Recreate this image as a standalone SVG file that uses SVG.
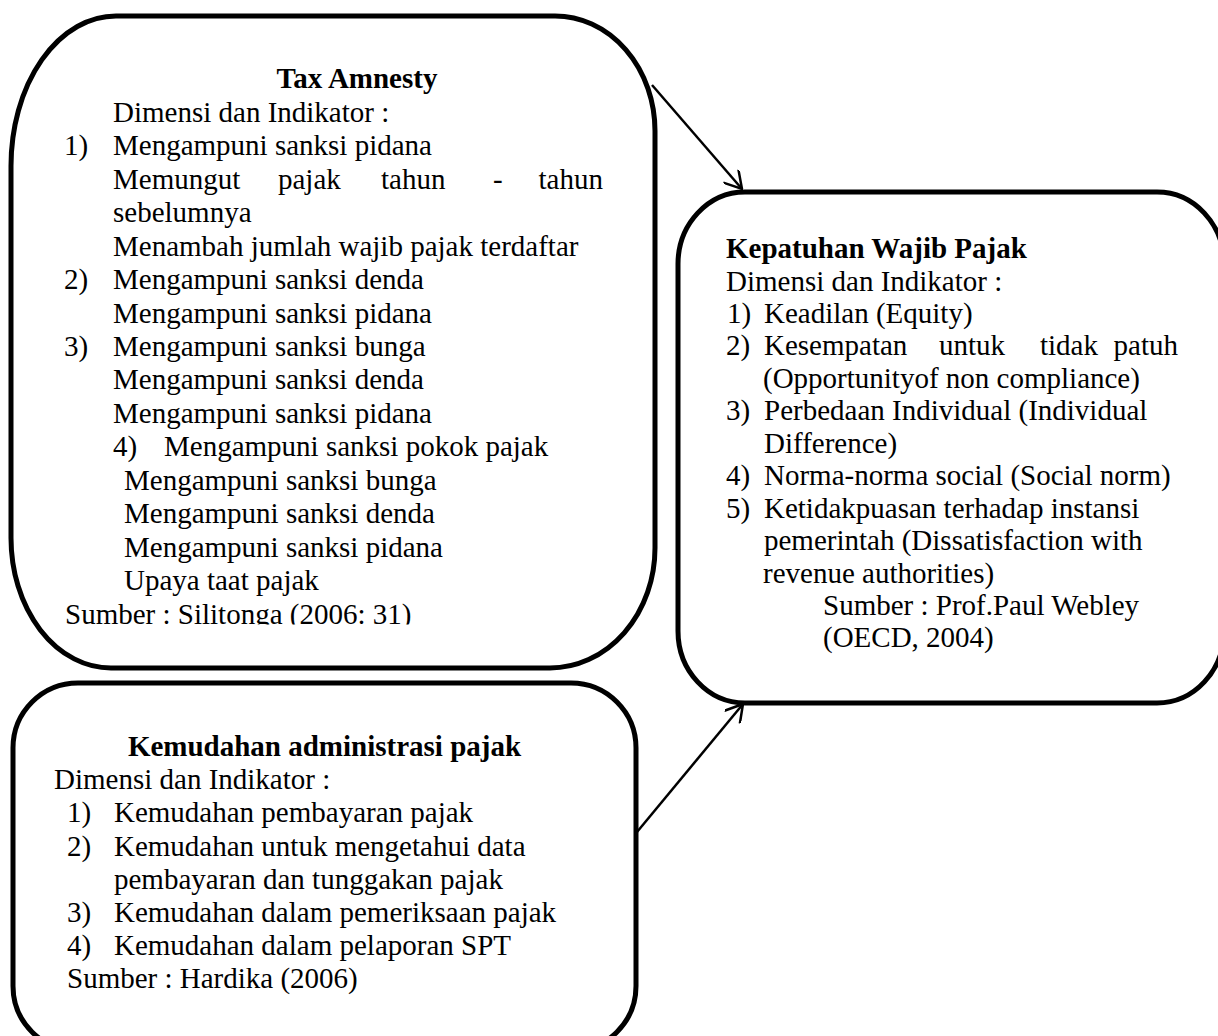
<svg xmlns="http://www.w3.org/2000/svg" width="1218" height="1036" viewBox="0 0 1218 1036">
  <style>
    .box { fill: #ffffff; stroke: #000000; stroke-width: 5; }
    .t { font-family: "Liberation Serif", "Times New Roman", serif; font-size: 29px; fill: #000000; }
    .b { font-weight: bold; }
    .conn { stroke: #000000; stroke-width: 2.5; fill: none; }
  </style>
  <defs>
    <marker id="arrow" viewBox="0 0 20 20" refX="19" refY="10" markerWidth="20" markerHeight="20" markerUnits="userSpaceOnUse" orient="auto">
      <path d="M2,0 L19,10 L2,20" fill="none" stroke="#000000" stroke-width="2.5"/>
    </marker>
    <clipPath id="clipTax">
      <rect x="0" y="0" width="700" height="624.5"/>
    </clipPath>
  </defs>
  <rect x="0" y="0" width="1218" height="1036" fill="#ffffff"/>

  <g id="node-tax-amnesty">
    <path class="box" d="M116,16 L555,16 A100,115 0 0 1 655,131 L655,548 A105,120 0 0 1 550,668 L111,668 A100,130 0 0 1 11,538 L11,166 A105,150 0 0 1 116,16 Z"/>
    <text class="t b" x="357" y="88.3" text-anchor="middle">Tax Amnesty</text>
    <text class="t" x="113" y="121.8">Dimensi dan Indikator :</text>
    <text class="t" x="64" y="155.2">1)</text>
    <text class="t" x="113" y="155.2">Mengampuni sanksi pidana</text>
    <text class="t" x="113" y="188.7">Memungut</text>
    <text class="t" x="278" y="188.7">pajak</text>
    <text class="t" x="381" y="188.7">tahun</text>
    <text class="t" x="493" y="188.7">-</text>
    <text class="t" x="603" y="188.7" text-anchor="end">tahun</text>
    <text class="t" x="113" y="222.1">sebelumnya</text>
    <text class="t" x="113" y="255.6">Menambah jumlah wajib pajak terdaftar</text>
    <text class="t" x="64" y="289">2)</text>
    <text class="t" x="113" y="289">Mengampuni sanksi denda</text>
    <text class="t" x="113" y="322.5">Mengampuni sanksi pidana</text>
    <text class="t" x="64" y="355.9">3)</text>
    <text class="t" x="113" y="355.9">Mengampuni sanksi bunga</text>
    <text class="t" x="113" y="389.4">Mengampuni sanksi denda</text>
    <text class="t" x="113" y="422.8">Mengampuni sanksi pidana</text>
    <text class="t" x="113" y="456.3">4)</text>
    <text class="t" x="164" y="456.3">Mengampuni sanksi pokok pajak</text>
    <text class="t" x="124" y="489.7">Mengampuni sanksi bunga</text>
    <text class="t" x="124" y="523.2">Mengampuni sanksi denda</text>
    <text class="t" x="124" y="556.6">Mengampuni sanksi pidana</text>
    <text class="t" x="124" y="590">Upaya taat pajak</text>
    <text class="t" x="65" y="623.5" clip-path="url(#clipTax)">Sumber : Silitonga (2006: 31)</text>
  </g>

  <g id="node-kemudahan">
    <rect class="box" x="13" y="683" width="623" height="368" rx="65" ry="65"/>
    <text class="t b" x="324.5" y="756" text-anchor="middle">Kemudahan administrasi pajak</text>
    <text class="t" x="54" y="789.2">Dimensi dan Indikator :</text>
    <text class="t" x="67" y="822.4">1)</text>
    <text class="t" x="114" y="822.4">Kemudahan pembayaran pajak</text>
    <text class="t" x="67" y="855.6">2)</text>
    <text class="t" x="114" y="855.6">Kemudahan untuk mengetahui data</text>
    <text class="t" x="114" y="888.8">pembayaran dan tunggakan pajak</text>
    <text class="t" x="67" y="922">3)</text>
    <text class="t" x="114" y="922">Kemudahan dalam pemeriksaan pajak</text>
    <text class="t" x="67" y="955.2">4)</text>
    <text class="t" x="114" y="955.2">Kemudahan dalam pelaporan SPT</text>
    <text class="t" x="67" y="988.4">Sumber : Hardika (2006)</text>
  </g>

  <g id="node-kepatuhan">
    <rect class="box" x="678" y="192" width="546" height="511" rx="67" ry="72"/>
    <text class="t b" x="726" y="258">Kepatuhan Wajib Pajak</text>
    <text class="t" x="726" y="290.5">Dimensi dan Indikator :</text>
    <text class="t" x="727" y="323">1)</text>
    <text class="t" x="764" y="323">Keadilan (Equity)</text>
    <text class="t" x="726" y="355.3">2)</text>
    <text class="t" x="764" y="355.3">Kesempatan</text>
    <text class="t" x="939" y="355.3">untuk</text>
    <text class="t" x="1040" y="355.3">tidak</text>
    <text class="t" x="1178" y="355.3" text-anchor="end">patuh</text>
    <text class="t" x="763" y="387.8">(Opportunityof non compliance)</text>
    <text class="t" x="726" y="420.2">3)</text>
    <text class="t" x="764" y="420.2">Perbedaan Individual (Individual</text>
    <text class="t" x="764" y="452.7">Difference)</text>
    <text class="t" x="726" y="485.1">4)</text>
    <text class="t" x="764" y="485.1">Norma-norma social (Social norm)</text>
    <text class="t" x="726" y="517.6">5)</text>
    <text class="t" x="764" y="517.6">Ketidakpuasan terhadap instansi</text>
    <text class="t" x="764" y="550">pemerintah (Dissatisfaction with</text>
    <text class="t" x="763" y="582.5">revenue authorities)</text>
    <text class="t" x="823" y="615">Sumber : Prof.Paul Webley</text>
    <text class="t" x="823" y="647.4">(OECD, 2004)</text>
  </g>

  <g id="connectors">
    <line class="conn" x1="652" y1="85" x2="742" y2="189" marker-end="url(#arrow)"/>
    <line class="conn" x1="637" y1="832" x2="743" y2="704" marker-end="url(#arrow)"/>
  </g>
</svg>
